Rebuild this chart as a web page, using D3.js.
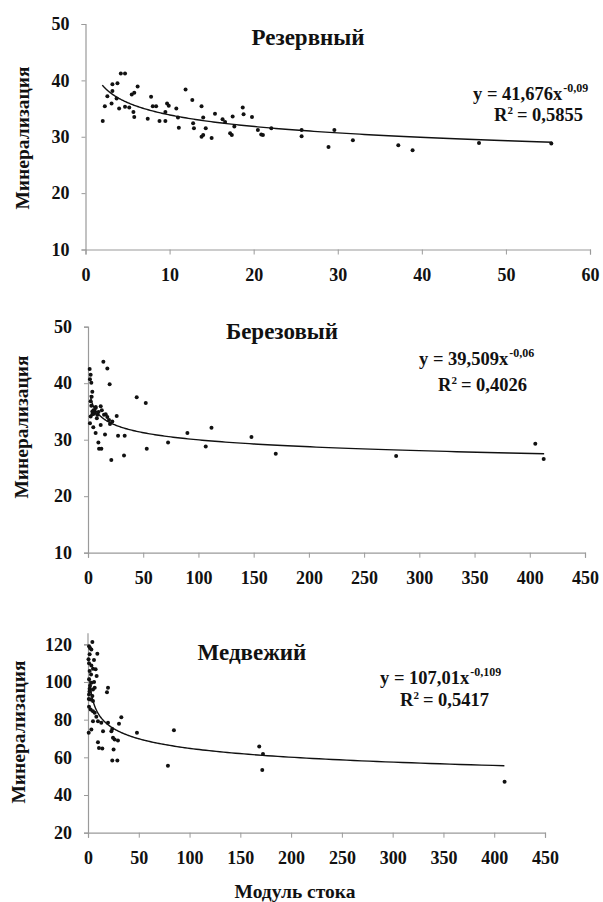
<!DOCTYPE html>
<html>
<head>
<meta charset="utf-8">
<script src="https://cdn.jsdelivr.net/npm/d3@7"></script>
<style>
  body { margin: 0; background: #fff; }
  svg text { font-family: "Liberation Serif", "Tinos", "Times New Roman", "DejaVu Serif", serif; font-weight: bold; fill: #111; }
</style>
</head>
<body>
<svg id="chart" width="603" height="902"></svg>
<script>
// --- data ---
const panelNames = ['Резервный', 'Березовый', 'Медвежий'];
const yAxisTitle = 'Минерализация';
const xAxisTitle = 'Модуль стока';

const rezervnyPts = [
  [2.05, 32.8], [2.3, 35.4], [2.6, 37.2], [3.2, 39.3], [3.2, 38.1], [3.1, 35.9], [3.7, 36.8],
  [3.8, 39.5], [4.2, 41.2], [4.7, 41.2], [4.0, 35.0], [4.7, 35.3], [5.2, 35.2], [5.5, 37.5],
  [5.8, 37.8], [5.7, 34.4], [5.8, 33.5], [6.2, 38.9], [7.4, 33.2], [7.8, 37.1], [8.0, 35.4],
  [8.4, 35.4], [8.8, 32.8], [9.5, 34.4], [9.5, 32.8], [9.7, 35.9], [9.9, 35.5], [10.8, 35.0],
  [11.0, 33.4], [11.1, 31.6], [11.9, 38.4], [12.7, 36.5], [12.8, 32.4], [12.9, 31.5], [13.8, 35.4],
  [14.0, 33.4], [13.8, 30.0], [14.0, 30.3], [14.3, 31.5], [15.0, 29.8], [15.4, 34.1], [16.3, 33.1],
  [16.6, 32.6], [17.2, 30.6], [17.4, 30.3], [17.5, 33.6], [17.7, 31.8], [18.7, 35.2], [18.8, 34.0],
  [19.8, 33.5], [20.5, 31.2], [20.9, 30.4], [21.1, 30.3], [22.1, 31.5], [25.7, 31.2], [25.7, 30.1],
  [28.9, 28.2], [29.6, 31.2], [31.8, 29.4], [37.2, 28.5], [38.9, 27.6], [46.8, 28.9], [55.4, 28.8]
];

const berezovyPts = [
  [13.9, 43.8], [17.5, 42.6], [1.5, 42.5], [2.4, 41.5], [1.8, 40.7], [3.0, 40.1], [19.6, 39.8],
  [3.9, 38.5], [3.3, 37.6], [2.4, 36.8], [44.1, 37.5], [52.3, 36.5], [11.5, 35.9], [6.9, 35.6],
  [3.9, 35.0], [5.4, 34.6], [8.5, 34.4], [2.4, 34.1], [14.5, 34.4], [17.5, 34.0], [26.0, 34.2],
  [19.0, 33.5], [22.0, 33.2], [19.9, 32.8], [1.8, 32.9], [4.8, 32.2], [11.5, 32.6], [6.9, 31.2],
  [15.4, 30.9], [27.2, 30.7], [33.2, 30.7], [9.4, 29.5], [10.0, 28.4], [12.1, 28.4], [21.1, 26.4],
  [32.6, 27.2], [53.2, 28.4], [72.5, 29.5], [90.0, 31.2], [106.6, 28.8], [111.8, 32.1], [148, 30.5],
  [170, 27.5], [279, 27.1], [405, 29.3], [412.6, 26.6], [4, 34.5], [5, 35.2], [6, 34.8], [7, 35.8],
  [3, 36], [8, 33.8], [9.5, 34.9], [12.5, 35.2], [16, 34.5]
];

const medvezhiyPts = [
  [4.3, 121.2], [1, 119], [3.3, 117.3], [9.2, 115], [1.6, 114.7], [5.9, 111.7], [1, 110],
  [3.3, 108.8], [7.5, 106.7], [4.9, 107], [1.6, 105.8], [8.5, 103.2], [1, 101.4], [3.3, 99.6],
  [6.6, 97], [1.6, 96.4], [4.9, 96], [19.7, 97], [18.7, 94.6], [1, 93.4], [4.3, 92.5], [2.3, 90.7],
  [4.9, 89.9], [1, 86.8], [2.6, 85.4], [4.9, 84.5], [6.6, 83.7], [8.2, 81.5], [4.9, 79.2],
  [9.8, 79.2], [13.1, 78.3], [19.7, 78.3], [32.8, 81.3], [30.5, 77.8], [14.8, 73.9], [23.9, 75.1],
  [3.3, 74.8], [0.7, 73], [23, 73.9], [24.6, 70.4], [26.2, 69.5], [29.5, 68.9], [9.8, 68],
  [10.8, 65], [14.1, 64.7], [25.2, 64.1], [23.9, 58.3], [28.9, 58.3], [48.2, 73], [84.6, 74.4],
  [78.7, 55.6], [168.6, 65.7], [172.3, 61.8], [171.6, 53.3], [410.2, 47.1], [2, 118], [0.5, 112],
  [3, 104], [2, 98], [1.5, 95], [6, 100], [0.8, 91]
];

// power trend y = a * x^b
const trendA = [41.676, 39.509, 107.01];
const trendB = [-0.09, -0.06, -0.109];
const trendFrom = [2, 2, 1.5];
const trendTo = [55.5, 413, 410];
const eqText = ['y = 41,676x', 'y = 39,509x', 'y = 107,01x'];
const eqPower = ['-0,09', '-0,06', '-0,109'];
const r2Text = ['0,5855', '0,4026', '0,5417'];

const xMax = [60, 450, 450];
const xStep = [10, 50, 50];
const yMin = [10, 10, 20];
const yMax = [50, 50, 120];
const yStep = [10, 10, 20];

// --- layout ---
const panels = [
  { pts: rezervnyPts, x: [85.5, 590], y: [249.5, 24], title: [308, 45], eq: [473, 100], r2: [494, 121], ylab: [22, 138] },
  { pts: berezovyPts, x: [88, 585], y: [552.7, 326.7], title: [282, 339], eq: [419, 365], r2: [438, 391], ylab: [21, 427] },
  { pts: medvezhiyPts, x: [88, 545], y: [832.7, 644.3], title: [252, 660], eq: [380, 684], r2: [400, 706], ylab: [18, 732] }
];

const svg = d3.select('#chart');
const serif = '"Liberation Serif", "Tinos", "Times New Roman", "DejaVu Serif", serif';

panels.forEach((p, i) => {
  const x = d3.scaleLinear().domain([0, xMax[i]]).range(p.x);
  const y = d3.scaleLinear().domain([yMin[i], yMax[i]]).range(p.y);
  const g = svg.append('g');

  const xAxis = d3.axisBottom(x)
    .tickValues(d3.range(0, xMax[i] + 1, xStep[i]))
    .tickSize(5).tickPadding(14).tickFormat(d3.format('d'));
  const yAxis = d3.axisLeft(y)
    .tickValues(d3.range(yMin[i], yMax[i] + 1, yStep[i]))
    .tickSize(4).tickPadding(12).tickFormat(d3.format('d'));

  const gx = g.append('g').attr('transform', `translate(0,${p.y[0]})`).call(xAxis);
  const gy = g.append('g').attr('transform', `translate(${p.x[0]},0)`).call(yAxis);
  [gx, gy].forEach(a => {
    a.attr('font-family', serif);
    a.select('.domain').attr('stroke', '#9a9a9a').attr('stroke-width', 1.2);
    a.selectAll('.tick line').attr('stroke', '#9a9a9a');
    a.selectAll('.tick text').attr('font-size', 18).attr('fill', '#111');
  });
  // the last panel's y axis runs a little above the top tick
  if (i === 2) {
    gy.append('line').attr('x1', 0).attr('x2', 0).attr('y1', p.y[1]).attr('y2', p.y[1] - 11)
      .attr('stroke', '#9a9a9a').attr('stroke-width', 1.2);
  }

  // trend line
  const n = 200;
  const lo = Math.log(trendFrom[i]), hi = Math.log(trendTo[i]);
  const curve = d3.range(n + 1).map(k => {
    const xv = Math.exp(lo + (hi - lo) * k / n);
    return [xv, trendA[i] * Math.pow(xv, trendB[i])];
  });
  g.append('path')
    .datum(curve)
    .attr('fill', 'none')
    .attr('stroke', '#111')
    .attr('stroke-width', 1.4)
    .attr('d', d3.line().x(d => x(d[0])).y(d => y(d[1])));

  g.selectAll('circle.pt')
    .data(p.pts)
    .enter()
    .append('circle')
    .attr('class', 'pt')
    .attr('cx', d => x(d[0]))
    .attr('cy', d => y(d[1]))
    .attr('r', 2)
    .attr('fill', '#111');

  g.append('text')
    .attr('x', p.title[0]).attr('y', p.title[1])
    .attr('text-anchor', 'middle')
    .attr('font-size', 23)
    .text(panelNames[i]);

  // equation, superscripts as separate texts placed after the measured base
  const eq = g.append('text').attr('x', p.eq[0]).attr('y', p.eq[1]).attr('font-size', 18.5).text(eqText[i]);
  const eqW = eq.node().getComputedTextLength();
  g.append('text').attr('x', p.eq[0] + eqW + 1).attr('y', p.eq[1] - 8).attr('font-size', 12).text(eqPower[i]);

  const r = g.append('text').attr('x', p.r2[0]).attr('y', p.r2[1]).attr('font-size', 18.5).text('R');
  const rW = r.node().getComputedTextLength();
  const sq = g.append('text').attr('x', p.r2[0] + rW).attr('y', p.r2[1] - 7).attr('font-size', 11).text('2');
  const sqW = sq.node().getComputedTextLength();
  g.append('text').attr('x', p.r2[0] + rW + sqW + 4).attr('y', p.r2[1]).attr('font-size', 18.5).text('= ' + r2Text[i]);

  g.append('text')
    .attr('transform', `translate(${p.ylab[0]},${p.ylab[1]}) rotate(-90)`)
    .attr('text-anchor', 'middle')
    .attr('dominant-baseline', 'central')
    .attr('font-size', 19.5)
    .text(yAxisTitle);
});

svg.append('text')
  .attr('x', 295).attr('y', 898)
  .attr('text-anchor', 'middle')
  .attr('font-size', 19.5)
  .text(xAxisTitle);
</script>
</body>
</html>
